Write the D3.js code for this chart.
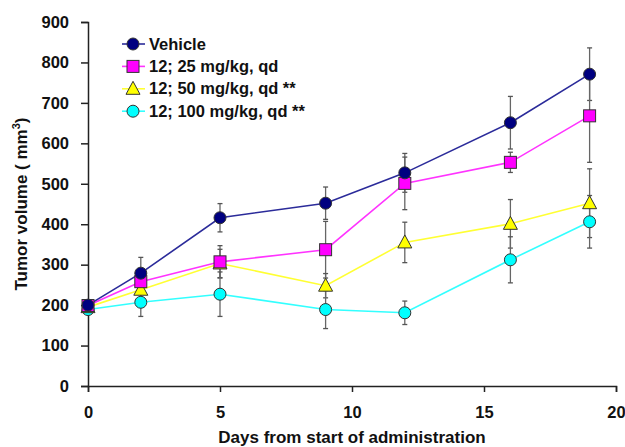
<!DOCTYPE html>
<html><head><meta charset="utf-8">
<script src="https://cdn.jsdelivr.net/npm/d3@7"></script>
<style>body{margin:0;background:#fff}svg{display:block}text{font-family:"Liberation Sans",Arial,sans-serif;font-weight:bold}</style>
</head><body><svg id="c" width="625" height="447"></svg>
<script>
const days = [0, 2, 5, 9, 12, 16, 19];
const vehicle = [200, 279, 416, 452, 527, 651, 771];
const vehicleErr = [5, 39, 35, 40, 48, 65, 65];
const dose25 = [199, 258, 307, 337, 501, 553, 668];
const dose25Err = [5, 30, 40, 70, 65, 25, 115];
const dose50 = [195, 238, 303, 248, 355, 401, 452];
const dose50Err = [5, 25, 35, 30, 50, 60, 85];
const dose100 = [189, 207, 227, 189, 181, 312, 406];
const dose100Err = [5, 35, 55, 47, 29, 57, 65];
const seriesNames = ["Vehicle", "12; 25 mg/kg, qd", "12; 50 mg/kg, qd **", "12; 100 mg/kg, qd **"];
const xTicks = [0, 5, 10, 15, 20];
const yTicks = [0, 100, 200, 300, 400, 500, 600, 700, 800, 900];

const series = [
  {name: seriesNames[0], vals: vehicle, err: vehicleErr, line: "#2b2b9a", fill: "#000080", shape: "circle"},
  {name: seriesNames[1], vals: dose25, err: dose25Err, line: "#ff33ff", fill: "#ff00ff", shape: "square"},
  {name: seriesNames[2], vals: dose50, err: dose50Err, line: "#ffff33", fill: "#ffff00", shape: "triangle"},
  {name: seriesNames[3], vals: dose100, err: dose100Err, line: "#33ffff", fill: "#00ffff", shape: "circle"}
];

const svg = d3.select("#c");
const x = d3.scaleLinear().domain([0, 20]).range([88, 616]);
const y = d3.scaleLinear().domain([0, 900]).range([386, 22]);

// axes
const xa = svg.append("g").attr("transform", "translate(0,386)")
  .call(d3.axisBottom(x).tickValues(xTicks).tickSize(6).tickPadding(14).tickFormat(d3.format("d")));
const ya = svg.append("g").attr("transform", "translate(88,0)")
  .call(d3.axisLeft(y).tickValues(yTicks).tickSize(7).tickPadding(12).tickFormat(d3.format("d")));
[xa, ya].forEach(g => {
  g.select(".domain").attr("stroke", "#222").attr("stroke-width", 1.5);
  g.selectAll(".tick line").attr("stroke", "#222").attr("stroke-width", 1.5);
  g.selectAll(".tick text").attr("fill", "#111").style("font-size", "16.5px").style("font-family", '"Liberation Sans",Arial,sans-serif').style("font-weight", "bold");
});

// axis titles
svg.append("text").attr("x", 352).attr("y", 443).attr("text-anchor", "middle")
  .style("font-size", "17px").attr("fill", "#111").text("Days from start of administration");
const yt = svg.append("text").attr("transform", "translate(27,204) rotate(-90)").attr("text-anchor", "middle")
  .style("font-size", "17px").attr("fill", "#111");
yt.append("tspan").text("Tumor volume ( mm");
yt.append("tspan").attr("dy", -7).style("font-size", "11px").text("3");
yt.append("tspan").attr("dy", 7).text(")");

function marker(g, shape, fill, cx, cy) {
  if (shape === "circle") {
    g.append("circle").attr("cx", cx).attr("cy", cy).attr("r", 6).attr("fill", fill).attr("stroke", "#333").attr("stroke-width", 1);
  } else if (shape === "square") {
    g.append("rect").attr("x", cx - 6).attr("y", cy - 6).attr("width", 12).attr("height", 12).attr("fill", fill).attr("stroke", "#333").attr("stroke-width", 1);
  } else {
    g.append("path").attr("d", `M${cx},${cy - 7.5}L${cx + 7},${cy + 5.5}L${cx - 7},${cy + 5.5}Z`).attr("fill", fill).attr("stroke", "#333").attr("stroke-width", 1);
  }
}

// error bars (behind)
const eg = svg.append("g");
series.forEach(s => {
  s.vals.forEach((v, i) => {
    const cx = x(days[i]);
    const t = y(v + s.err[i]), b = y(v - s.err[i]);
    eg.append("line").attr("x1", cx).attr("x2", cx).attr("y1", t).attr("y2", b).attr("stroke", "#666").attr("stroke-width", 1.3);
    [t, b].forEach(yy => eg.append("line").attr("x1", cx - 2.5).attr("x2", cx + 2.5).attr("y1", yy).attr("y2", yy).attr("stroke", "#555").attr("stroke-width", 1.3));
  });
});

// lines
const line = d3.line().x((d, i) => x(days[i])).y(d => y(d));
series.slice().reverse().forEach(s => {
  svg.append("path").datum(s.vals).attr("d", line).attr("fill", "none").attr("stroke", s.line).attr("stroke-width", 1.6);
});
// markers
const mg = svg.append("g");
series.slice().reverse().forEach(s => {
  s.vals.forEach((v, i) => marker(mg, s.shape, s.fill, x(days[i]), y(v)));
});

// legend
const lg = svg.append("g");
series.forEach((s, i) => {
  const yy = 44 + i * 22.4;
  lg.append("line").attr("x1", 122).attr("x2", 145).attr("y1", yy).attr("y2", yy).attr("stroke", s.line).attr("stroke-width", 1.6);
  marker(lg, s.shape, s.fill, 133, yy);
  lg.append("text").attr("x", 149).attr("y", yy + 5.5).style("font-size", "16.5px").attr("fill", "#111").text(s.name);
});
</script></body></html>
